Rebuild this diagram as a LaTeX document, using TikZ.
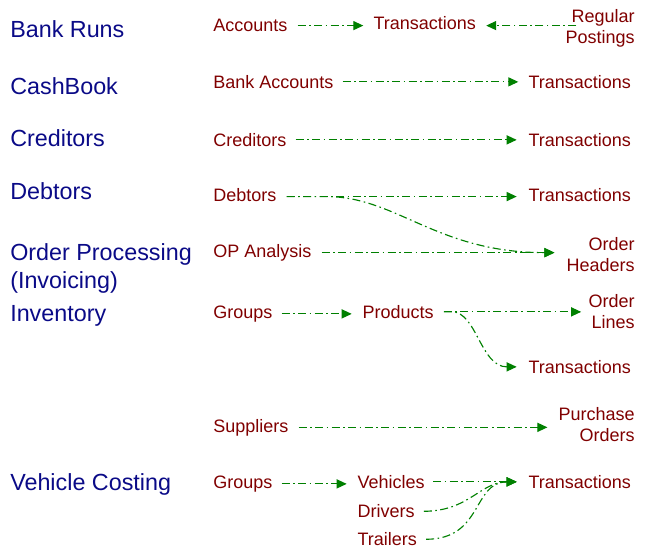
\documentclass[tikz,border=0pt]{standalone}
\usepackage{fontspec}
\setmainfont{Liberation Sans}
\usetikzlibrary{arrows.meta}
\definecolor{headblue}{RGB}{10,10,135}
\definecolor{labred}{RGB}{128,0,0}
\definecolor{linkgreen}{RGB}{0,128,0}
\newdimen\pxu \pxu=0.75pt
\begin{document}
\begin{tikzpicture}[x=0.75pt,y=-0.75pt,
  head/.style={inner sep=0pt,text=headblue,font=\fontsize{17.5pt}{21pt}\selectfont,align=left},
  lab/.style={inner sep=0pt,text=labred,font=\fontsize{13.5pt}{15.75pt}\selectfont},
  labr/.style={lab,align=right,anchor=north east},
  link/.style={draw=linkgreen,line width=0.85pt,dash pattern=on 6pt off 2.6pt on 1.2pt off 2.6pt,
    -{Triangle[length=7.5pt,width=6.8pt]}}]
\useasboundingbox (0,0) rectangle (654,558);
% headings
\node[head,anchor=base west] (h1) at (10,37.3) {Bank Runs};
\node[head,anchor=base west] (h2) at (10,94) {CashBook};
\node[head,anchor=base west] (h3) at (10,146.7) {Creditors};
\node[head,anchor=base west] (h4) at (10,199) {Debtors};
\node[head,anchor=north west] (h5) at (10,243.7) {Order Processing\\(Invoicing)};
\node[head,anchor=base west] (h6) at (10,321.7) {Inventory};
\node[head,anchor=base west] (h7) at (10,490.7) {Vehicle Costing};
% row 1
\node[lab,anchor=base west] (acc) at (213,31.7) {Accounts};
\node[lab,anchor=base west] (tr1) at (373.3,29.3) {Transactions};
\node[labr] (rp) at (635,9.6) {Regular\\Postings};
% row 2
\node[lab,anchor=base west] (bank) at (213,88.3) {Bank Accounts};
\node[lab,anchor=base west] (tr2) at (528.3,88.3) {Transactions};
% row 3
\node[lab,anchor=base west] (cred) at (213,146.3) {Creditors};
\node[lab,anchor=base west] (tr3) at (528.3,146.3) {Transactions};
% row 4
\node[lab,anchor=base west] (deb) at (213,201) {Debtors};
\node[lab,anchor=base west] (tr4) at (528.3,201.5) {Transactions};
% row 5
\node[lab,anchor=base west] (opa) at (213,257.3) {OP Analysis};
\node[labr] (oh) at (635,236.9) {Order\\Headers};
% inventory
\node[lab,anchor=base west] (grp1) at (213,318.3) {Groups};
\node[lab,anchor=base west] (prod) at (362.3,318.3) {Products};
\node[labr] (ol) at (635,293.9) {Order\\Lines};
\node[lab,anchor=base west] (tr5) at (528.3,373.3) {Transactions};
\node[lab,anchor=base west] (sup) at (213,432) {Suppliers};
\node[labr] (po) at (635,406.9) {Purchase\\Orders};
% vehicle costing
\node[lab,anchor=base west] (grp2) at (213,488.3) {Groups};
\node[lab,anchor=base west] (veh) at (357.3,488.3) {Vehicles};
\node[lab,anchor=base west] (tr6) at (528.3,488.3) {Transactions};
\node[lab,anchor=base west] (drv) at (357.3,517.7) {Drivers};
\node[lab,anchor=base west] (trl) at (357.3,545.7) {Trailers};
% connectors
\draw[link,shorten <=10\pxu,shorten >=10\pxu] (acc.east) -- (acc.east -| tr1.west);
\draw[link,shorten <=-11\pxu,shorten >=10\pxu] (acc.east -| rp.west) -- (acc.east -| tr1.east);
\draw[link,shorten <=9\pxu,shorten >=10\pxu] (bank.east) -- (bank.east -| tr2.west);
\draw[link,shorten <=9\pxu,shorten >=11.6\pxu] (cred.east) -- (cred.east -| tr3.west);
\draw[link,shorten <=10\pxu,shorten >=11.6\pxu] ([yshift=-2\pxu]deb.east) -- ([yshift=-2\pxu]deb.east -| tr4.west);
\draw[link,shorten <=10\pxu,shorten >=12\pxu] ([yshift=-2\pxu]deb.east) -- ++(50,0)
   .. controls +(70,0) and +(-130,0) .. (opa.east -| oh.west);
\draw[link,shorten <=10\pxu,shorten >=12\pxu] (opa.east) -- (opa.east -| oh.west);
\draw[link,shorten <=9\pxu,shorten >=10.6\pxu] (grp1.east) -- (grp1.east -| prod.west);
\draw[link,shorten <=10\pxu,shorten >=7.3\pxu] (prod.east) -- (prod.east -| ol.west);
\draw[link,shorten <=10\pxu,shorten >=11.6\pxu] (prod.east) -- ++(18,0)
   .. controls +(25,0) and +(-48,0) .. (tr5.west);
\draw[link,shorten <=10\pxu,shorten >=11\pxu] (sup.east) -- (sup.east -| po.west);
\draw[link,shorten <=9\pxu,shorten >=10.6\pxu] (grp2.east) -- (grp2.east -| veh.west);
\draw[link,shorten <=8.3\pxu,shorten >=11.6\pxu] (veh.east) -- (veh.east -| tr6.west);
\draw[link,shorten <=9\pxu,shorten >=11.6\pxu] (drv.east) .. controls +(54,0) and +(-48,0) .. (tr6.west);
\draw[link,shorten <=9\pxu,shorten >=11.6\pxu] (trl.east) .. controls +(66,0) and +(-56,0) .. (tr6.west);
\end{tikzpicture}
\end{document}
